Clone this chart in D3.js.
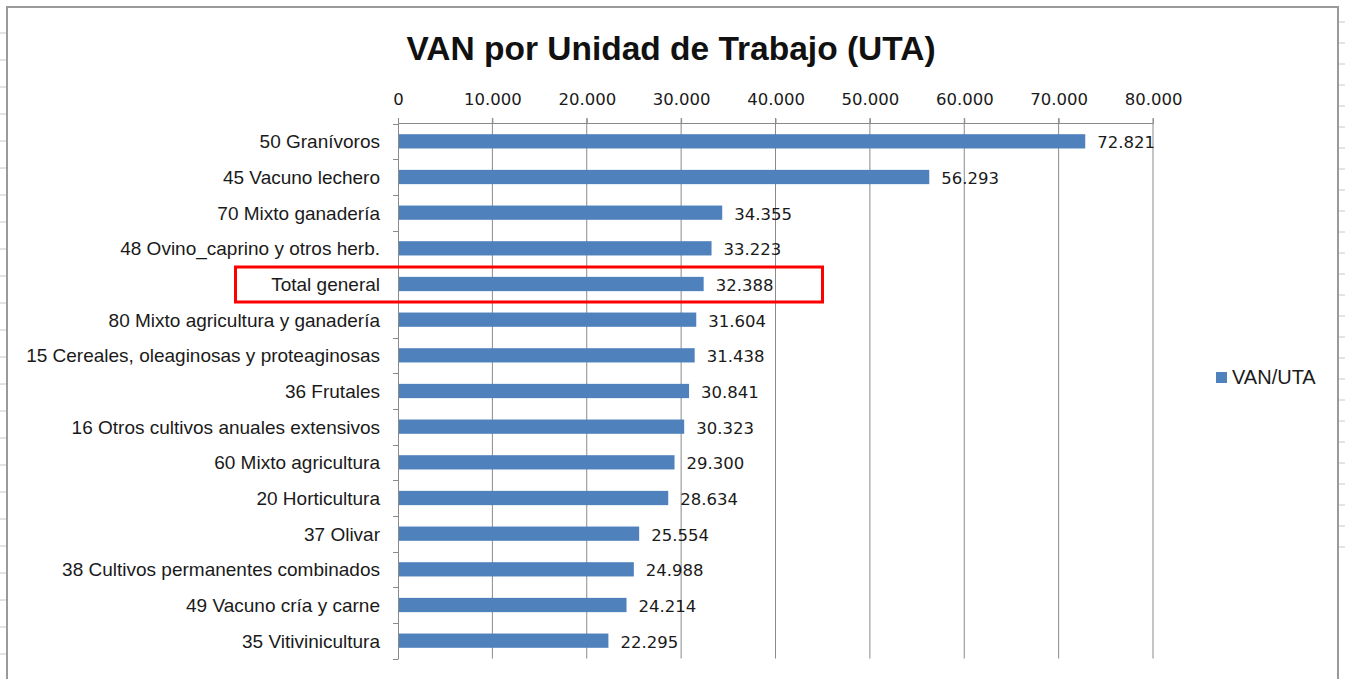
<!DOCTYPE html>
<html lang="es">
<head>
    <meta charset="UTF-8">
    <title>VAN por Unidad de Trabajo (UTA)</title>
    <script src="https://d3js.org/d3.v7.min.js"></script>
    <style>
        body {
            margin: 0;
            background-color: #ffffff;
        }
        svg {
            display: block;
        }
        .cat-label {
            font-family: "Liberation Sans", Arial, sans-serif;
            font-size: 19px;
            fill: #1a1a1a;
        }
        .num-label {
            font-family: "DejaVu Sans", sans-serif;
            font-size: 16.5px;
            fill: #1a1a1a;
        }
    </style>
</head>
<body>
    <div id="chart"></div>

    <script>
        // datos del gráfico
        const categorias = [
            "50 Granívoros",
            "45 Vacuno lechero",
            "70 Mixto ganadería",
            "48 Ovino_caprino y otros herb.",
            "Total general",
            "80 Mixto agricultura y ganadería",
            "15 Cereales, oleaginosas y proteaginosas",
            "36 Frutales",
            "16 Otros cultivos anuales extensivos",
            "60 Mixto agricultura",
            "20 Horticultura",
            "37 Olivar",
            "38 Cultivos permanentes combinados",
            "49 Vacuno cría y carne",
            "35 Vitivinicultura"
        ];
        const valores = [72821, 56293, 34355, 33223, 32388, 31604, 31438, 30841, 30323, 29300, 28634, 25554, 24988, 24214, 22295];
        const ticks = [0, 10000, 20000, 30000, 40000, 50000, 60000, 70000, 80000];
        const serie = "VAN/UTA";
        const destacado = "Total general";

        const width = 1345;
        const height = 679;
        const azul = "#4f81bd";
        const gris = "#8a8a8a";

        // formato con punto de miles
        const fmt = d => d3.format(",")(d).replace(/,/g, ".");

        const svg = d3.select("#chart")
            .append("svg")
            .attr("width", width)
            .attr("height", height);

        // marcas de celdas de la hoja fuera del gráfico
        const filas = d3.range(0, 26);
        svg.append("g").selectAll("line")
            .data(filas)
            .enter()
            .append("line")
            .attr("x1", 0).attr("x2", 6)
            .attr("y1", i => 33 + i * 27).attr("y2", i => 33 + i * 27)
            .attr("stroke", "#c8c8c8");
        svg.append("g").selectAll("line")
            .data(filas)
            .enter()
            .append("line")
            .attr("x1", 1339).attr("x2", 1345)
            .attr("y1", i => 22 + i * 21).attr("y2", i => 22 + i * 21)
            .attr("stroke", "#c8c8c8");

        // marco del gráfico
        svg.append("rect")
            .attr("x", 7).attr("y", 7)
            .attr("width", 1331).attr("height", 690)
            .attr("fill", "#fff")
            .attr("stroke", "#9a9a9a")
            .attr("stroke-width", 2);

        // título
        svg.append("text")
            .attr("x", 671)
            .attr("y", 60)
            .attr("text-anchor", "middle")
            .style("font-family", "'Liberation Sans', Arial, sans-serif")
            .style("font-weight", "bold")
            .style("font-size", "33.5px")
            .style("fill", "#111")
            .text("VAN por Unidad de Trabajo (UTA)");

        // escalas
        const x = d3.scaleLinear()
            .domain([0, 80000])
            .range([398, 1153]);

        const y = d3.scaleBand()
            .domain(categorias)
            .range([123.5, 658.5])
            .paddingInner(0.6)
            .paddingOuter(0.3);

        // líneas de división verticales
        svg.append("g")
            .selectAll("line")
            .data(ticks.slice(1))
            .enter()
            .append("line")
            .attr("x1", d => x(d)).attr("x2", d => x(d))
            .attr("y1", 118).attr("y2", 658.5)
            .attr("stroke", gris)
            .attr("stroke-width", 1);

        // eje superior
        const ejeX = svg.append("g")
            .attr("transform", "translate(0,123.5)")
            .call(d3.axisTop(x).tickValues(ticks).tickSize(5).tickFormat(fmt));
        ejeX.select(".domain").attr("stroke", gris).attr("d", `M${x(0)},0H${x(80000)}`);
        ejeX.selectAll(".tick line").attr("stroke", gris);
        ejeX.selectAll(".tick text")
            .attr("class", "num-label")
            .attr("y", -19)
            .style("font-family", "'DejaVu Sans', sans-serif")
            .style("font-size", "16.5px")
            .attr("fill", "#1a1a1a");

        // eje de categorías con marcas entre bandas
        const limites = d3.range(categorias.length + 1)
            .map(i => 123.5 + i * y.step());
        svg.append("line")
            .attr("x1", x(0) + 0.5).attr("x2", x(0) + 0.5)
            .attr("y1", 118).attr("y2", 659)
            .attr("stroke", gris);
        svg.append("g")
            .selectAll("line")
            .data(limites)
            .enter()
            .append("line")
            .attr("x1", x(0) - 5).attr("x2", x(0) + 0.5)
            .attr("y1", d => Math.round(d) + 0.5).attr("y2", d => Math.round(d) + 0.5)
            .attr("stroke", gris);

        // barras
        svg.append("g")
            .selectAll("rect")
            .data(valores)
            .enter()
            .append("rect")
            .attr("x", x(0) + 1)
            .attr("y", (d, i) => y(categorias[i]))
            .attr("width", d => x(d) - x(0) - 1)
            .attr("height", y.bandwidth())
            .attr("fill", azul);

        // etiquetas de categoría
        svg.append("g")
            .selectAll("text")
            .data(categorias)
            .enter()
            .append("text")
            .attr("class", "cat-label")
            .attr("x", 380)
            .attr("y", d => y(d) + y.bandwidth() / 2 + 7)
            .attr("text-anchor", "end")
            .text(d => d);

        // etiquetas de valor
        svg.append("g")
            .selectAll("text")
            .data(valores)
            .enter()
            .append("text")
            .attr("class", "num-label")
            .attr("x", d => x(d) + 12)
            .attr("y", (d, i) => y(categorias[i]) + y.bandwidth() / 2 + 7)
            .text(d => fmt(d));

        // recuadro rojo de Total general
        const yTot = y(destacado) + y.bandwidth() / 2;
        svg.append("rect")
            .attr("x", 235.5)
            .attr("y", yTot - 17)
            .attr("width", 587)
            .attr("height", 35)
            .attr("fill", "none")
            .attr("stroke", "#ff0000")
            .attr("stroke-width", 3);

        // leyenda
        const leyenda = svg.append("g").attr("transform", "translate(1216,372)");
        leyenda.append("rect")
            .attr("width", 11).attr("height", 11)
            .attr("fill", azul);
        leyenda.append("text")
            .attr("x", 16)
            .attr("y", 12)
            .style("font-family", "'Liberation Sans', Arial, sans-serif")
            .style("font-size", "20px")
            .style("fill", "#1a1a1a")
            .text(serie);
    </script>
</body>
</html>
